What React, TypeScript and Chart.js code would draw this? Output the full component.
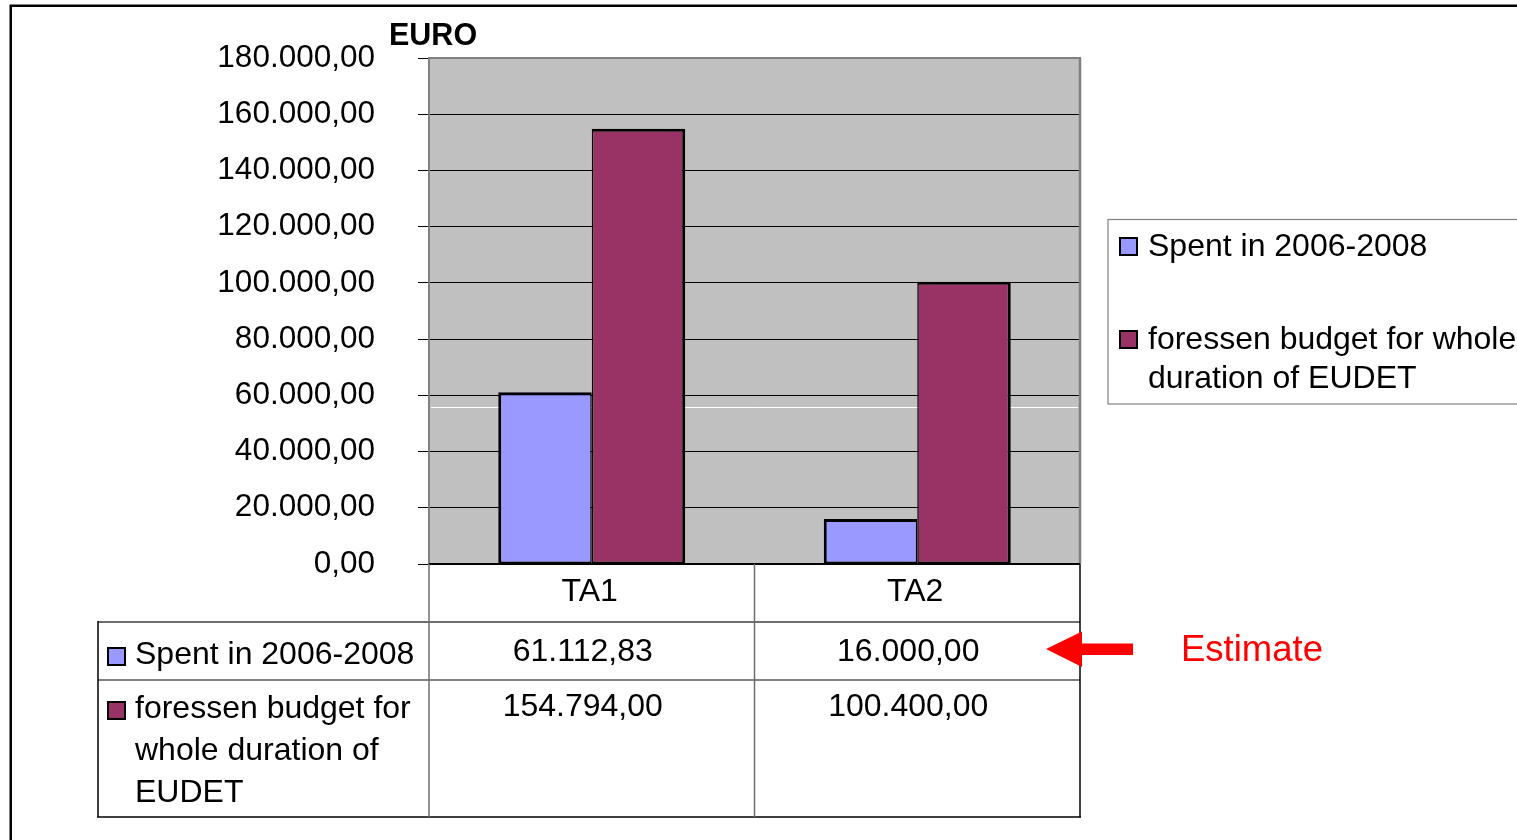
import { useEffect, useRef } from 'react';
import { Chart, registerables } from 'chart.js';

Chart.register(...registerables);

// ---- data ----
const categories = ['TA1', 'TA2'];
const spentValues = [61112.83, 16000.0];
const budgetValues = [154794.0, 100400.0];
const seriesNames = ['Spent in 2006-2008', 'foressen budget for whole duration of EUDET'];
const tableLabelLines = [['Spent in 2006-2008'], ['foressen budget for', 'whole duration of', 'EUDET']];
const legendLabelLines = [['Spent in 2006-2008'], ['foressen budget for whole', 'duration of EUDET']];
const yTickValues = [0, 20000, 40000, 60000, 80000, 100000, 120000, 140000, 160000, 180000];
const axisTitle = 'EURO';
const noteText = 'Estimate';
const artifactLineValue = 56000;

const FONT = '"Liberation Sans", Arial, sans-serif';
const SERIES_COLORS = ['#9999FF', '#993366'];

function fmtDE(v: number): string {
  const [i, d] = v.toFixed(2).split('.');
  return i.replace(/\B(?=(\d{3})+(?!\d))/g, '.') + ',' + d;
}

function drawKey(ctx: CanvasRenderingContext2D, x: number, y: number, s: number, color: string) {
  ctx.fillStyle = color;
  ctx.fillRect(x, y, s, s);
  ctx.strokeStyle = '#000';
  ctx.lineWidth = 2;
  ctx.strokeRect(x, y, s, s);
}

function line(ctx: CanvasRenderingContext2D, x1: number, y1: number, x2: number, y2: number, color: string, w: number) {
  ctx.strokeStyle = color;
  ctx.lineWidth = w;
  ctx.beginPath();
  ctx.moveTo(x1, y1);
  ctx.lineTo(x2, y2);
  ctx.stroke();
}

const decoPlugin = {
  id: 'deco',
  beforeDraw(chart: any) {
    const { ctx, chartArea: a } = chart;
    ctx.save();
    ctx.fillStyle = '#ffffff';
    ctx.fillRect(0, 0, chart.width, chart.height);
    ctx.fillStyle = '#C0C0C0';
    ctx.fillRect(a.left, a.top, a.right - a.left, a.bottom - a.top);
    ctx.restore();
  },
  beforeDatasetsDraw(chart: any) {
    const { ctx, chartArea: a } = chart;
    const y = Math.round(chart.scales.y.getPixelForValue(artifactLineValue)) + 0.5;
    ctx.save();
    line(ctx, a.left + 2, y, a.right - 2, y, '#ffffff', 1);
    ctx.restore();
  },
  afterDraw(chart: any) {
    const { ctx, chartArea: a } = chart;
    const xs = chart.scales.x;
    ctx.save();

    // plot area border
    line(ctx, a.left, a.top, a.right + 1, a.top, '#808080', 2);
    line(ctx, a.right, a.top, a.right, a.bottom, '#808080', 2.5);
    // category axis line
    line(ctx, a.left, a.bottom, a.right, a.bottom, '#000', 2);

    // axis title
    ctx.fillStyle = '#000';
    ctx.font = `bold 30.5px ${FONT}`;
    ctx.textAlign = 'left';
    ctx.textBaseline = 'alphabetic';
    ctx.fillText(axisTitle, 389, 45);

    // ---- data table ----
    const n = categories.length;
    const cw = (a.right - a.left) / n;
    const headerBottom = a.bottom + 58;
    const row1Bottom = a.bottom + 116;
    const tableBottom = a.bottom + 253;
    const tableLeft = 98;

    line(ctx, tableLeft, headerBottom, a.right, headerBottom, '#6e6e6e', 2);
    line(ctx, tableLeft, row1Bottom, a.right, row1Bottom, '#808080', 2);
    line(ctx, tableLeft - 1, tableBottom, a.right + 1, tableBottom, '#000', 1.5);
    line(ctx, tableLeft, headerBottom - 1, tableLeft, tableBottom, '#000', 1.5);
    for (let i = 0; i <= n; i++) {
      const x = a.left + i * cw;
      line(ctx, x, a.bottom, x, tableBottom, i === n ? '#000' : '#6e6e6e', 1.5);
    }

    ctx.font = `32px ${FONT}`;
    ctx.fillStyle = '#000';
    ctx.textAlign = 'center';
    categories.forEach((c, i) => {
      ctx.fillText(c, xs.getPixelForValue(i) - 2, a.bottom + 37);
    });

    const rowValues = [spentValues, budgetValues];
    const valueBaselines = [a.bottom + 97, a.bottom + 152];
    rowValues.forEach((vals, r) => {
      ctx.textAlign = 'center';
      ctx.fillStyle = '#000';
      vals.forEach((v, i) => {
        ctx.fillText(fmtDE(v), xs.getPixelForValue(i) - 9, valueBaselines[r]);
      });
    });

    const keyTops = [a.bottom + 84, a.bottom + 138];
    const labelBaselines = [[a.bottom + 100], [a.bottom + 154, a.bottom + 196, a.bottom + 238]];
    tableLabelLines.forEach((lines, r) => {
      drawKey(ctx, 108, keyTops[r], 17, SERIES_COLORS[r]);
      ctx.fillStyle = '#000';
      ctx.textAlign = 'left';
      lines.forEach((t, k) => ctx.fillText(t, 135, labelBaselines[r][k]));
    });

    // ---- legend ----
    ctx.strokeStyle = '#808080';
    ctx.lineWidth = 1.2;
    ctx.strokeRect(1108, 219.5, 500, 184.5);
    const legKeyTops = [238, 331];
    const legBaselines = [[256], [349, 388]];
    legendLabelLines.forEach((lines, r) => {
      drawKey(ctx, 1120, legKeyTops[r], 17, SERIES_COLORS[r]);
      ctx.fillStyle = '#000';
      ctx.textAlign = 'left';
      lines.forEach((t, k) => ctx.fillText(t, 1148, legBaselines[r][k]));
    });

    // ---- estimate note ----
    ctx.fillStyle = '#FF0000';
    ctx.beginPath();
    ctx.moveTo(1046, 649);
    ctx.lineTo(1082, 631.5);
    ctx.lineTo(1082, 643.5);
    ctx.lineTo(1133, 643.5);
    ctx.lineTo(1133, 655);
    ctx.lineTo(1082, 655);
    ctx.lineTo(1082, 667);
    ctx.closePath();
    ctx.fill();
    ctx.font = `36.5px ${FONT}`;
    ctx.textAlign = 'left';
    ctx.fillText(noteText, 1181, 661);

    // outer frame
    ctx.strokeStyle = '#000';
    ctx.lineWidth = 2.5;
    ctx.strokeRect(10.75, 5.75, 3000, 3000);

    ctx.restore();
  },
};

export default function App() {
  const ref = useRef<HTMLCanvasElement | null>(null);

  useEffect(() => {
    document.body.style.margin = '0';
    document.body.style.overflow = 'hidden';
    if (!ref.current) return;
    const chart = new Chart(ref.current, {
      type: 'bar',
      data: {
        labels: categories,
        datasets: [
          {
            label: seriesNames[0],
            data: spentValues,
            backgroundColor: SERIES_COLORS[0],
            borderColor: '#000',
            borderWidth: { top: 3, left: 3, right: 1.5, bottom: 2 } as any,
            borderSkipped: false,
            categoryPercentage: 0.5745,
            barPercentage: 1,
          },
          {
            label: seriesNames[1],
            data: budgetValues,
            backgroundColor: SERIES_COLORS[1],
            borderColor: '#000',
            borderWidth: { top: 3, left: 1.5, right: 3, bottom: 2 } as any,
            borderSkipped: false,
            categoryPercentage: 0.5745,
            barPercentage: 1,
          },
        ],
      },
      options: {
        animation: false,
        responsive: true,
        maintainAspectRatio: false,
        layout: { padding: { left: 0, top: 58, right: 437, bottom: 276 } },
        plugins: {
          legend: { display: false },
          tooltip: { enabled: false },
        },
        scales: {
          x: {
            type: 'category',
            display: false,
            afterFit: (s: any) => {
              s.paddingLeft = 0;
              s.paddingRight = 0;
              s.paddingTop = 0;
              s.paddingBottom = 0;
            },
          },
          y: {
            min: 0,
            max: 180000,
            afterBuildTicks: (s: any) => {
              s.ticks = yTickValues.map((v) => ({ value: v }));
            },
            ticks: {
              callback: (v: any) => fmtDE(Number(v)),
              color: '#000',
              font: { family: FONT, size: 31.5 },
              padding: 43,
            },
            grid: {
              color: '#000',
              lineWidth: 1,
              tickLength: 11,
              drawTicks: true,
            },
            border: { color: '#808080', width: 2 },
            afterFit: (s: any) => {
              s.width = 429;
              s.paddingTop = 0;
              s.paddingBottom = 0;
              s.paddingLeft = 0;
              s.paddingRight = 0;
            },
          },
        },
      },
      plugins: [decoPlugin],
    });
    return () => chart.destroy();
  }, []);

  return (
    <div style={{ position: 'absolute', left: 0, top: 0, width: 1517, height: 840 }}>
      <canvas ref={ref} />
    </div>
  );
}
